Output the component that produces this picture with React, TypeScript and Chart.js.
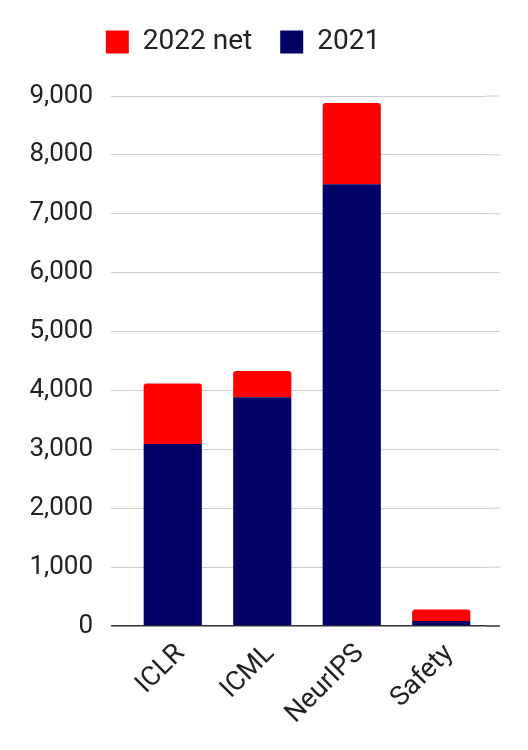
import React, { useEffect, useRef } from "react";
import { Chart, registerables } from "chart.js";

Chart.register(...registerables);

const categories = ["ICLR", "ICML", "NeurIPS", "Safety"];
const values2021 = [3090, 3885, 7500, 85];
const values2022Net = [1030, 445, 1380, 195];
const yTicks = [0, 1000, 2000, 3000, 4000, 5000, 6000, 7000, 8000, 9000];

const FONT = "Roboto";

const extendGrid = {
  id: "extendGrid",
  afterDraw(chart: any) {
    const y = chart.scales.y;
    const ctx = chart.ctx;
    const right = chart.chartArea.right;
    ctx.save();
    y.ticks.forEach((t: any) => {
      const py = y.getPixelForValue(t.value);
      ctx.beginPath();
      ctx.strokeStyle = t.value === 0 ? "#333333" : "#cccccc";
      ctx.lineWidth = t.value === 0 ? 1.5 : 1;
      ctx.moveTo(right, py);
      ctx.lineTo(right + 14, py);
      ctx.stroke();
    });
    ctx.restore();
  },
};

const legendMargin = {
  id: "legendMargin",
  beforeInit(chart: any) {
    const fit = chart.legend.fit;
    chart.legend.fit = function () {
      fit.bind(chart.legend)();
      this.height += 30;
    };
  },
};

export default function App() {
  const ref = useRef<HTMLCanvasElement>(null);
  useEffect(() => {
    const chart = new Chart(ref.current!, {
      type: "bar",
      data: {
        labels: categories,
        datasets: [
          {
            label: "2021",
            data: values2021,
            backgroundColor: "#000066",
            barPercentage: 0.65,
            categoryPercentage: 1,
          },
          {
            label: "2022 net",
            data: values2022Net,
            backgroundColor: "#ff0000",
            barPercentage: 0.65,
            categoryPercentage: 1,
            borderRadius: { topLeft: 3, topRight: 3, bottomLeft: 0, bottomRight: 0 },
            borderSkipped: false,
          },
        ],
      },
      options: {
        animation: false,
        responsive: false,
        layout: { padding: { left: 0, right: 42, top: 0, bottom: 0 } },
        plugins: {
          legend: {
            reverse: true,
            labels: {
              font: { family: FONT, size: 28 },
              color: "#222222",
              boxWidth: 23,
              boxHeight: 23,
              padding: 28,
            },
          },
          tooltip: { enabled: false },
        },
        scales: {
          x: {
            stacked: true,
            grid: { display: false },
            border: { display: false },
            ticks: {
              font: { family: FONT, size: 27 },
              color: "#222222",
              minRotation: 45,
              maxRotation: 45,
              padding: 4,
              labelOffset: 8,
            },
            afterFit(scale: any) {
              scale.height = 124;
            },
          },
          y: {
            stacked: true,
            min: 0,
            max: 9000,
            afterBuildTicks(scale: any) {
              scale.ticks = yTicks.map((v) => ({ value: v }));
            },
            grid: {
              color: (c: any) => (c.tick && c.tick.value === 0 ? "#333333" : "#cccccc"),
              lineWidth: (c: any) => (c.tick && c.tick.value === 0 ? 1.5 : 1),
              tickLength: 17,
            },
            border: { display: false },
            ticks: {
              font: { family: FONT, size: 26 },
              color: "#222222",
              padding: 18,
              callback: (v: any) => Number(v).toLocaleString("en-US"),
            },
            afterFit(scale: any) {
              scale.width = 128;
            },
          },
        },
      },
      plugins: [extendGrid, legendMargin],
    });
    return () => chart.destroy();
  }, []);
  return (
    <div style={{ position: "fixed", left: 0, top: 0, width: 528, height: 750, background: "#fff" }}>
      <canvas ref={ref} width={528} height={750} style={{ display: "block" }} />
    </div>
  );
}
